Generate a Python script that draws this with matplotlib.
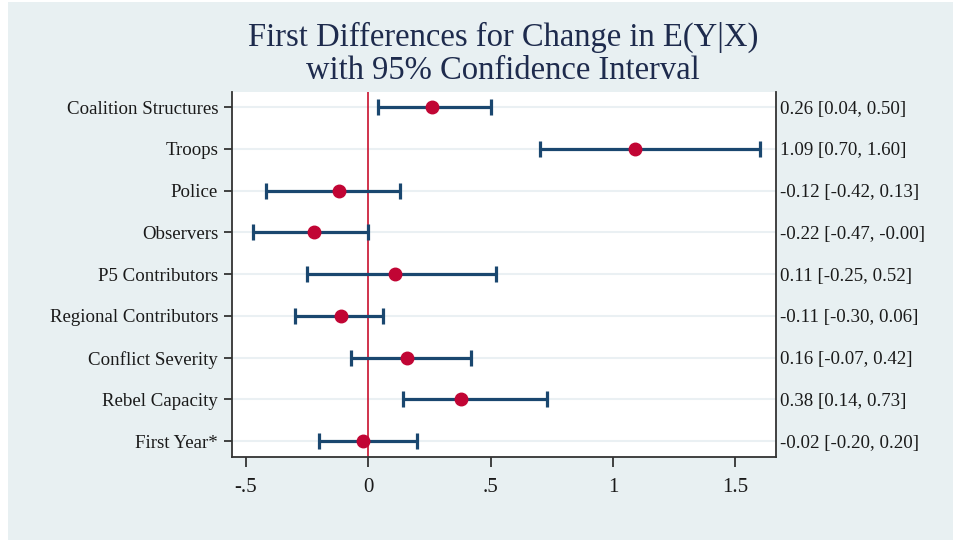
import numpy as np
import matplotlib.pyplot as plt
from matplotlib.patches import Rectangle
import matplotlib.transforms as mtransforms

labels = ["Coalition Structures", "Troops", "Police", "Observers", "P5 Contributors",
          "Regional Contributors", "Conflict Severity", "Rebel Capacity", "First Year*"]
est = [0.26, 1.09, -0.12, -0.22, 0.11, -0.11, 0.16, 0.38, -0.02]
lo = [0.04, 0.70, -0.42, -0.47, -0.25, -0.30, -0.07, 0.14, -0.20]
hi = [0.50, 1.60, 0.13, -0.00, 0.52, 0.06, 0.42, 0.73, 0.20]
right_labels = ["0.26 [0.04, 0.50]", "1.09 [0.70, 1.60]", "-0.12 [-0.42, 0.13]",
                "-0.22 [-0.47, -0.00]", "0.11 [-0.25, 0.52]", "-0.11 [-0.30, 0.06]",
                "0.16 [-0.07, 0.42]", "0.38 [0.14, 0.73]", "-0.02 [-0.20, 0.20]"]
xticks = [-0.5, 0, 0.5, 1, 1.5]
xticklabels = ["-.5", "0", ".5", "1", "1.5"]

bg = "#e8f0f2"
navy = "#1a476f"
red = "#c10534"
txt = "#1a1a1a"

plt.rcParams['font.family'] = ['Liberation Serif', 'DejaVu Serif']

fig = plt.figure(figsize=(9.54, 5.4), dpi=100, facecolor="white")
fig.patches.append(Rectangle((8 / 954, 0), 1, 538 / 540, transform=fig.transFigure,
                             facecolor=bg, edgecolor="none", zorder=-10))

ax = fig.add_axes([232 / 954, 1 - 457 / 540, 544 / 954, 365 / 540])
ax.set_facecolor("white")

y = np.arange(1, len(labels) + 1)
est = np.array(est)
lo = np.array(lo)
hi = np.array(hi)

for yy in y:
    ax.axhline(yy, color="#eaf0f3", lw=1.5, zorder=0)

ax.axvline(0, color="#c8102e", lw=1.2, zorder=1)
ax.errorbar(est, y, xerr=[est - lo, hi - est], fmt="none", ecolor=navy,
            elinewidth=2.3, capsize=5.5, capthick=2.3, zorder=2)
ax.plot(est, y, "o", color=red, ms=9, zorder=3)

ax.set_xlim(-0.557, 1.666)
ax.set_ylim(9.38, 0.64)
ax.set_yticks(y)
ax.set_yticklabels(labels, fontsize=13.6, color=txt)
ax.set_xticks(xticks)
ax.set_xticklabels(xticklabels, fontsize=15, color=txt)
ax.tick_params(axis="y", length=6, width=1.3, color="#333333", pad=4)
ax.tick_params(axis="x", length=7, width=1.3, color="#333333", pad=8)

ax.spines["top"].set_visible(False)
for s in ["left", "bottom", "right"]:
    ax.spines[s].set_color("#333333")
    ax.spines[s].set_linewidth(1.3)

trans = mtransforms.blended_transform_factory(ax.transAxes, ax.transData)
for yy, lab in zip(y, right_labels):
    ax.text(1.008, yy, lab, transform=trans, ha="left", va="center_baseline",
            fontsize=13.6, color=txt)

fig.text(503 / 954, 1 - 54 / 540, "First Differences for Change in E(Y|X)\nwith 95% Confidence Interval",
         ha="center", va="center", fontsize=23.5, color="#1e2b4d", linespacing=1.12)

fig.savefig("out.png", dpi=100, facecolor=fig.get_facecolor())
